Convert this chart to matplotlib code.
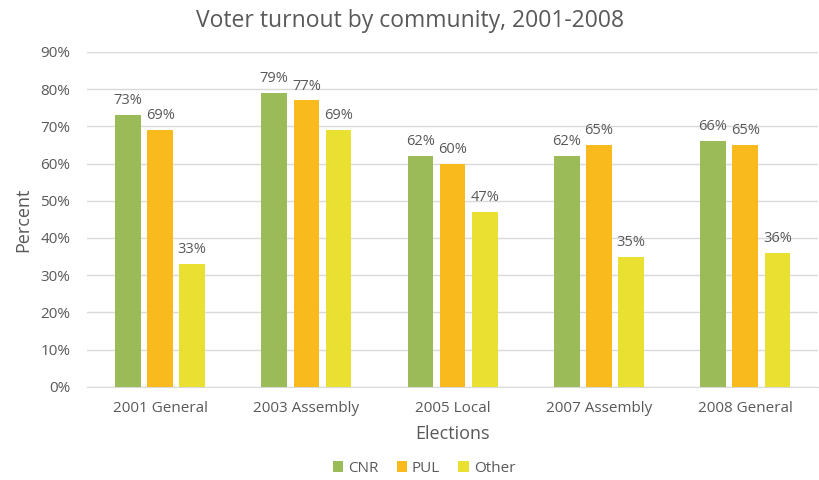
import matplotlib.pyplot as plt
import numpy as np

elections = ["2001 General", "2003 Assembly", "2005 Local", "2007 Assembly", "2008 General"]
cnr = [73, 79, 62, 62, 66]
pul = [69, 77, 60, 65, 65]
other = [33, 69, 47, 35, 36]

series = [("CNR", cnr, "#9BBB59"), ("PUL", pul, "#F9BA1E"), ("Other", other, "#EAE032")]

plt.rcParams['font.family'] = ['Open Sans', 'DejaVu Sans']
grey = "#595959"

fig = plt.figure(figsize=(8.2, 4.8), dpi=100)
ax = fig.add_axes([0.106, 0.194, 0.892, 0.698])

x = np.arange(len(elections))
w = 0.175
step = 0.22
for i, (name, vals, col) in enumerate(series):
    pos = x + (i - 1) * step
    bars = ax.bar(pos, np.array(vals) / 100, w, color=col, label=name, zorder=3)
    for b, v in zip(bars, vals):
        ax.text(b.get_x() + b.get_width() / 2, v / 100 + 0.018, f"{v}%",
                ha="center", va="bottom", fontsize=10.5, color=grey)

ax.set_xlim(-0.5, len(elections) - 0.5)
ax.set_ylim(0, 0.9)
ax.set_yticks(np.arange(0, 0.91, 0.1))
ax.set_yticklabels([f"{int(round(t * 100))}%" for t in np.arange(0, 0.91, 0.1)])
ax.set_xticks(x)
ax.set_xticklabels(elections)
ax.tick_params(axis="both", length=0, colors=grey, labelsize=11)
ax.tick_params(axis="y", pad=12)
ax.tick_params(axis="x", pad=10)
ax.grid(axis="y", color="#D9D9D9", linewidth=1, zorder=0)
for s in ["top", "right", "left"]:
    ax.spines[s].set_visible(False)
ax.spines["bottom"].set_color("#D9D9D9")

ax.set_xlabel("Elections", fontsize=13, color=grey, labelpad=7)
ax.set_ylabel("Percent", fontsize=13, color=grey, labelpad=6)
fig.suptitle("Voter turnout by community, 2001-2008", fontsize=16.5, color=grey, y=0.982)

fig.legend(*ax.get_legend_handles_labels(), loc="center", bbox_to_anchor=(0.517, 0.025),
           ncol=3, frameon=False, fontsize=11, labelcolor=grey, handlelength=0.7,
           handleheight=0.7, handletextpad=0.3, columnspacing=1.2)

fig.savefig("out.png", dpi=100)
